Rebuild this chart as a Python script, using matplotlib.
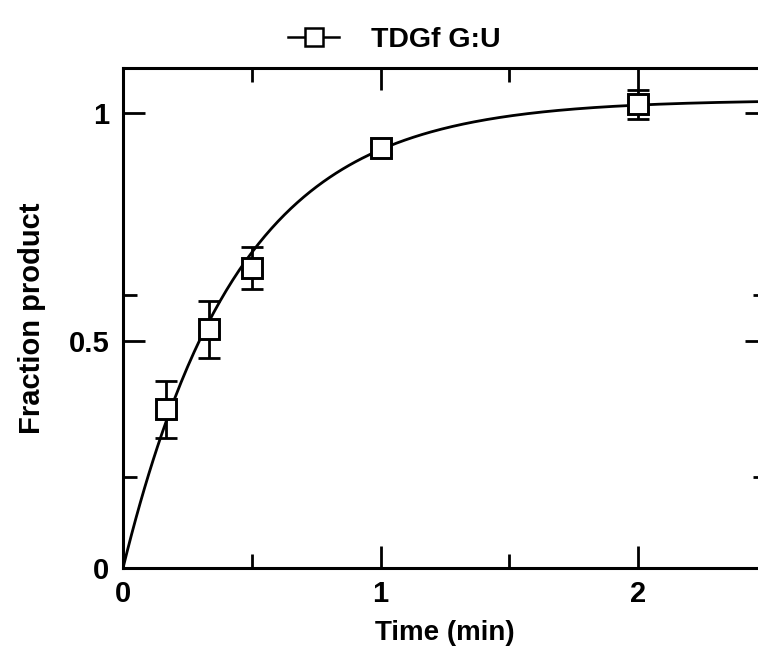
import numpy as np
import matplotlib.pyplot as plt
from matplotlib.ticker import FixedLocator

# data
time_min = [1/6, 1/3, 0.5, 1.0, 2.0]
fraction = [0.349, 0.525, 0.660, 0.923, 1.020]
fraction_err = [0.063, 0.063, 0.046, 0.012, 0.032]

# single-exponential fit shown as the line (y = A * (1 - exp(-k t)))
fit_amp = 1.03
fit_rate = 2.24

series_label = 'TDGf G:U'

plt.rcParams['font.family'] = ['Liberation Sans', 'DejaVu Sans']
plt.rcParams['font.weight'] = 'bold'

fig = plt.figure(figsize=(7.58, 6.65), dpi=100)
ax = fig.add_axes([0.1623, 0.1459, 0.8493, 0.7519])

t_fit = np.linspace(0, 2.5, 300)
ax.plot(t_fit, fit_amp * (1 - np.exp(-fit_rate * t_fit)), color='black', lw=2.0, zorder=2)

ax.errorbar(time_min, fraction, yerr=fraction_err, fmt='none', ecolor='black',
            elinewidth=2.0, capsize=8, capthick=2.0, zorder=3)
ax.plot(time_min, fraction, linestyle='none', marker='s', markersize=14,
        markerfacecolor='white', markeredgecolor='black', markeredgewidth=2.1, zorder=4)

# legend handle: line through a square
h, = ax.plot([], [], color='black', lw=1.8, marker='s', markersize=13,
             markerfacecolor='white', markeredgecolor='black', markeredgewidth=1.8,
             label=series_label)
fig.legend(handles=[h], loc='center', bbox_to_anchor=(0.52, 0.94), frameon=False,
           handlelength=1.8, handletextpad=1.1,
           prop={'weight': 'bold', 'size': 20.5})

ax.set_xlim(0, 2.5)
ax.set_ylim(0, 1.1)
ax.set_xticks([0, 1, 2])
ax.set_xticklabels(['0', '1', '2'])
ax.xaxis.set_minor_locator(FixedLocator([0.5, 1.5]))
ax.set_yticks([0, 0.5, 1])
ax.set_yticklabels(['0', '0.5', '1'])
ax.yaxis.set_minor_locator(FixedLocator([0.2, 0.6]))

ax.tick_params(which='both', direction='in', top=True, right=True, width=2.0,
               labelsize=21)
ax.tick_params(which='major', length=16)
ax.tick_params(which='minor', length=10)
ax.tick_params(axis='x', pad=9)
ax.tick_params(axis='y', pad=10)
for s in ax.spines.values():
    s.set_linewidth(2.2)

ax.set_xlabel('Time (min)', fontsize=20, fontweight='bold', labelpad=8)
ax.set_ylabel('Fraction product', fontsize=21, fontweight='bold', labelpad=16)

fig.savefig('out.png', dpi=100)
